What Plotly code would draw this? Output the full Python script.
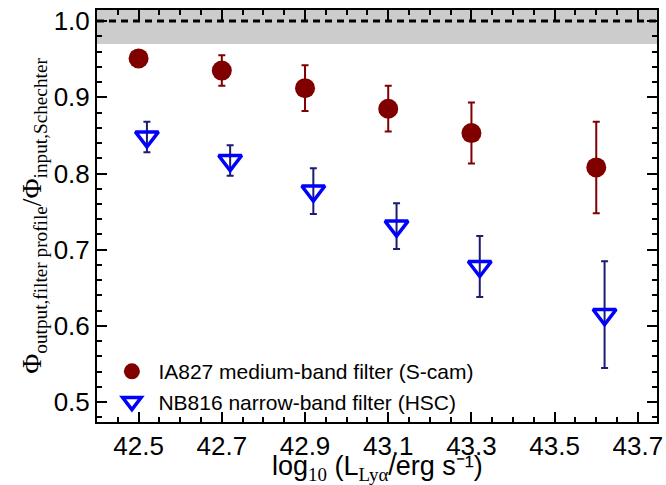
import plotly.graph_objects as go

# Data
ia827_x = [42.50, 42.70, 42.90, 43.10, 43.30, 43.60]
ia827_y = [0.951, 0.935, 0.912, 0.885, 0.853, 0.808]
ia827_err = [0.0, 0.020, 0.030, 0.030, 0.040, 0.060]

nb816_x = [42.52, 42.72, 42.92, 43.12, 43.32, 43.62]
nb816_y = [0.848, 0.817, 0.777, 0.731, 0.678, 0.615]
nb816_err = [0.020, 0.020, 0.030, 0.030, 0.040, 0.070]

x_ticks = [42.5, 42.7, 42.9, 43.1, 43.3, 43.5, 43.7]
y_ticks = [0.5, 0.6, 0.7, 0.8, 0.9, 1.0]

SANS = "Liberation Sans, Arial, sans-serif"
SERIF = "Liberation Serif, DejaVu Serif, serif"

x_title = ("log<sub><span style=\"font-family:" + SERIF + "\">10</span></sub>"
           " (L<sub><span style=\"font-family:" + SERIF + "\">Lyα</span></sub>/erg s⁻¹)")
y_title = "Φ<sub>output,filter profile</sub>/Φ<sub>input,Schechter</sub>"

fig = go.Figure()

fig.add_trace(go.Scatter(
    x=ia827_x, y=ia827_y, mode="markers",
    name="IA827 medium-band filter (S-cam)",
    marker=dict(symbol="circle", size=20, color="#800000"),
    error_y=dict(type="data", array=ia827_err, visible=True,
                 color="#800000", thickness=2, width=3.5),
))
fig.add_trace(go.Scatter(
    x=nb816_x, y=nb816_y, mode="markers",
    name="NB816 narrow-band filter (HSC)",
    marker=dict(symbol="triangle-down-open", size=20, color="#0000ff",
                line=dict(width=3.5, color="#0000ff")),
    error_y=dict(type="data", array=nb816_err, visible=True,
                 color="#1c1c70", thickness=2, width=3.5),
))

fig.add_shape(type="rect", xref="paper", yref="y", x0=0, x1=1, y0=0.97, y1=1.03,
              fillcolor="#cccccc", line=dict(width=0), layer="below")
fig.add_shape(type="line", xref="paper", yref="y", x0=0, x1=1, y0=1.0, y1=1.0,
              line=dict(color="black", width=3, dash="7px,5px"), layer="above")

axis_common = dict(
    showgrid=False, zeroline=False, showline=True, linecolor="black", linewidth=2,
    mirror="allticks", ticks="inside", ticklen=10, tickwidth=2, tickcolor="black",
    tickfont=dict(family=SANS, size=26, color="black"), automargin=False,
)

fig.update_xaxes(
    **axis_common, range=[42.40, 43.746], tickvals=x_ticks,
    ticktext=[f"{v:.1f}" for v in x_ticks],
    minor=dict(dtick=0.05, ticks="inside", ticklen=5, tickwidth=1.5, tickcolor="black", tick0=42.4),
)
fig.update_yaxes(
    **axis_common, range=[0.474, 1.0145], tickvals=y_ticks,
    ticktext=[f"{v:.1f}" for v in y_ticks],
    minor=dict(dtick=0.02, ticks="inside", ticklen=5, tickwidth=1.5, tickcolor="black", tick0=0.4),
    title=dict(text=y_title, font=dict(family=SERIF, size=27.5, color="black"), standoff=4),
)

fig.add_annotation(
    text=x_title, xref="paper", yref="paper", x=0.5, y=-0.112,
    xanchor="center", yanchor="middle", showarrow=False,
    font=dict(family=SANS, size=27, color="black"),
)

fig.update_layout(
    width=666, height=485,
    margin=dict(l=97, r=9, t=10, b=63, autoexpand=False),
    plot_bgcolor="white", paper_bgcolor="white",
    showlegend=True,
    legend=dict(x=0.015, y=0.172, xanchor="left", yanchor="top",
                bgcolor="rgba(0,0,0,0)", borderwidth=0,
                font=dict(family=SANS, size=21, color="black"),
                itemsizing="trace", itemwidth=43, tracegroupgap=0),
)

fig.write_html("out.html")
